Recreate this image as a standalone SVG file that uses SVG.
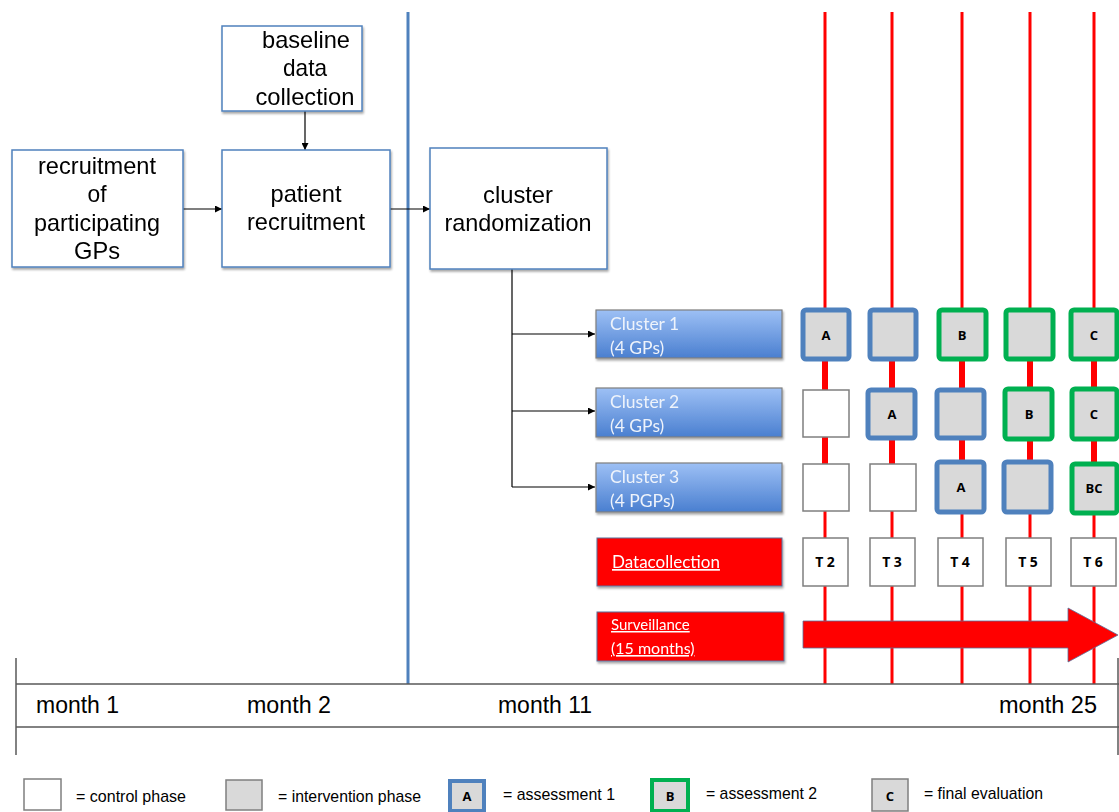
<svg xmlns="http://www.w3.org/2000/svg" width="1119" height="812" viewBox="0 0 1119 812">
<defs>
<marker id="ah" viewBox="0 0 10 10" refX="10" refY="5" markerWidth="7" markerHeight="7" markerUnits="userSpaceOnUse" orient="auto"><path d="M0,0 L10,5 L0,10 z" fill="#000"/></marker>
<linearGradient id="cg" x1="0" y1="0" x2="0" y2="1"><stop offset="0" stop-color="#9DC0F5"/><stop offset="1" stop-color="#4A7FD0"/></linearGradient>
<filter id="sh" x="-10%" y="-10%" width="130%" height="140%"><feDropShadow dx="1" dy="2" stdDeviation="1.2" flood-color="#000" flood-opacity="0.35"/></filter>
</defs>
<style>
.box{fill:#fff;stroke:#4F81BD;stroke-width:1.5}
.bt{font-family:"Liberation Sans",Arial,sans-serif;font-size:24px;fill:#000;text-anchor:middle}
.conn{stroke:#000;stroke-width:1.2;fill:none}
.cl{fill:url(#cg);stroke:#7F7F7F;stroke-width:1.2}
.ct{font-family:Lato,"Open Sans",sans-serif;font-size:17.5px;fill:#EEF3FB}
.red{fill:#FF0000;stroke:#5A6E9A;stroke-width:1}
.rt{font-family:Lato,"Open Sans",sans-serif;fill:#fff}
.rl{stroke:#FF0000;stroke-width:3}
.rk{stroke:#FF0000;stroke-width:6}
.wb{fill:#fff;stroke:#7F7F7F;stroke-width:1.5}
.gb{fill:#D9D9D9;stroke:#4F81BD;stroke-width:5}
.ggb{fill:#D9D9D9;stroke:#00B050;stroke-width:5}
.pb{fill:#D9D9D9;stroke:#7F7F7F;stroke-width:1.5}
.lt{font-family:"Open Sans","Liberation Sans",sans-serif;font-size:13px;font-weight:bold;fill:#000;text-anchor:middle}
.tt{font-family:"Open Sans","Liberation Sans",sans-serif;font-size:14px;font-weight:bold;fill:#000;text-anchor:middle}
.mt{font-family:"Liberation Sans",Arial,sans-serif;font-size:23px;fill:#000}
.lg{font-family:"Liberation Sans",Arial,sans-serif;font-size:17px;fill:#000}
.ax{stroke:#595959;stroke-width:1.5}
</style>
<rect width="1119" height="812" fill="#fff"/>

<g id="timelines">
<line class="rl" x1="825" y1="12" x2="825" y2="684"/>
<line class="rl" x1="892" y1="12" x2="892" y2="684"/>
<line class="rl" x1="962" y1="12" x2="962" y2="684"/>
<line class="rl" x1="1030" y1="12" x2="1030" y2="684"/>
<line class="rl" x1="1094" y1="12" x2="1094" y2="684"/>
<line class="rk" x1="825" y1="360" x2="825" y2="390"/>
<line class="rk" x1="892" y1="360" x2="892" y2="390"/>
<line class="rk" x1="962" y1="360" x2="962" y2="390"/>
<line class="rk" x1="1030" y1="360" x2="1030" y2="390"/>
<line class="rk" x1="1094" y1="360" x2="1094" y2="390"/>
<line class="rk" x1="825" y1="437" x2="825" y2="464"/>
<line class="rk" x1="892" y1="437" x2="892" y2="464"/>
<line class="rk" x1="962" y1="437" x2="962" y2="464"/>
<line class="rk" x1="1030" y1="437" x2="1030" y2="464"/>
<line class="rk" x1="1094" y1="437" x2="1094" y2="464"/>
</g>

<line x1="408" y1="12" x2="408" y2="684" stroke="#4F81BD" stroke-width="3"/>

<g id="connectors">
<line class="conn" x1="305" y1="111" x2="305" y2="150" marker-end="url(#ah)"/>
<line class="conn" x1="183" y1="209" x2="222" y2="209" marker-end="url(#ah)"/>
<line class="conn" x1="390" y1="209" x2="430" y2="209" marker-end="url(#ah)"/>
<polyline class="conn" points="512,269 512,487"/>
<line class="conn" x1="512" y1="334" x2="595" y2="334" marker-end="url(#ah)"/>
<line class="conn" x1="512" y1="411" x2="595" y2="411" marker-end="url(#ah)"/>
<line class="conn" x1="512" y1="487" x2="595" y2="487" marker-end="url(#ah)"/>
</g>

<g id="baseline" filter="url(#sh)"><rect class="box" x="222" y="26" width="140" height="85"/>
<text class="bt" x="306" y="48" textLength="88" lengthAdjust="spacingAndGlyphs">baseline</text><text class="bt" x="305" y="76" textLength="44" lengthAdjust="spacingAndGlyphs">data</text><text class="bt" x="305" y="105" textLength="99" lengthAdjust="spacingAndGlyphs">collection</text></g>
<g id="recruitGP" filter="url(#sh)"><rect class="box" x="12" y="150" width="171" height="117"/>
<text class="bt" x="97" y="174" textLength="118" lengthAdjust="spacingAndGlyphs">recruitment</text><text class="bt" x="97" y="202" textLength="19" lengthAdjust="spacingAndGlyphs">of</text><text class="bt" x="97" y="231" textLength="126" lengthAdjust="spacingAndGlyphs">participating</text><text class="bt" x="97" y="259" textLength="46" lengthAdjust="spacingAndGlyphs">GPs</text></g>
<g id="patient" filter="url(#sh)"><rect class="box" x="222" y="150" width="168" height="117"/>
<text class="bt" x="306" y="202" textLength="71" lengthAdjust="spacingAndGlyphs">patient</text><text class="bt" x="306" y="230" textLength="118" lengthAdjust="spacingAndGlyphs">recruitment</text></g>
<g id="randomization" filter="url(#sh)"><rect class="box" x="430" y="148" width="177" height="121"/>
<text class="bt" x="518" y="203" textLength="70" lengthAdjust="spacingAndGlyphs">cluster</text><text class="bt" x="518" y="231" textLength="147" lengthAdjust="spacingAndGlyphs">randomization</text></g>

<g id="cluster1" filter="url(#sh)"><rect class="cl" x="596" y="310" width="186" height="48"/>
<text class="ct" x="610" y="330">Cluster 1</text><text class="ct" x="610" y="354">(4 GPs)</text></g>
<g id="cluster2" filter="url(#sh)"><rect class="cl" x="596" y="388" width="186" height="49"/>
<text class="ct" x="610" y="408">Cluster 2</text><text class="ct" x="610" y="432">(4 GPs)</text></g>
<g id="cluster3" filter="url(#sh)"><rect class="cl" x="596" y="463" width="186" height="49"/>
<text class="ct" x="610" y="483">Cluster 3</text><text class="ct" x="610" y="507">(4 PGPs)</text></g>

<g id="datacollection" filter="url(#sh)"><rect class="red" x="597" y="538" width="185" height="48"/>
<text class="rt" x="612" y="568" font-size="17" text-decoration="underline">Datacollection</text></g>
<g id="surveillance" filter="url(#sh)"><rect class="red" x="597" y="612" width="187" height="49"/>
<text class="rt" x="611" y="630" font-size="15" text-decoration="underline">Surveillance</text>
<text class="rt" x="611" y="654" font-size="16" text-decoration="underline">(15 months)</text></g>
<g id="survArrow"><path d="M803,621 L1068,621 L1068,608 L1118,635 L1068,662 L1068,648 L803,648 z" fill="#FF0000" stroke="#5A6E9A" stroke-width="0.8"/></g>

<g id="r1c1"><rect class="gb" x="803" y="310" width="46" height="49" rx="3"/><text class="lt" x="826" y="340">A</text></g>
<g id="r1c2"><rect class="gb" x="870" y="310" width="46" height="49" rx="3"/></g>
<g id="r1c3"><rect class="ggb" x="939" y="310" width="47" height="49" rx="3"/><text class="lt" x="962" y="340">B</text></g>
<g id="r1c4"><rect class="ggb" x="1006" y="310" width="47" height="49" rx="3"/></g>
<g id="r1c5"><rect class="ggb" x="1071" y="310" width="46" height="49" rx="3"/><text class="lt" x="1094" y="340">C</text></g>
<g id="r2c1"><rect class="wb" x="803" y="390" width="46" height="47"/></g>
<g id="r2c2"><rect class="gb" x="868" y="390" width="47" height="48" rx="3"/><text class="lt" x="892" y="419">A</text></g>
<g id="r2c3"><rect class="gb" x="937" y="390" width="47" height="48" rx="3"/></g>
<g id="r2c4"><rect class="ggb" x="1005" y="389" width="47" height="50" rx="3"/><text class="lt" x="1029" y="419">B</text></g>
<g id="r2c5"><rect class="ggb" x="1072" y="389" width="45" height="50" rx="3"/><text class="lt" x="1094" y="419">C</text></g>
<g id="r3c1"><rect class="wb" x="803" y="464" width="46" height="47"/></g>
<g id="r3c2"><rect class="wb" x="870" y="464" width="46" height="47"/></g>
<g id="r3c3"><rect class="gb" x="937" y="462" width="47" height="50" rx="3"/><text class="lt" x="961" y="492">A</text></g>
<g id="r3c4"><rect class="gb" x="1004" y="462" width="47" height="50" rx="3"/></g>
<g id="r3c5"><rect class="ggb" x="1072" y="464" width="45" height="49" rx="3"/><text class="lt" x="1094" y="493">BC</text></g>

<g id="T2"><rect class="wb" x="803" y="538" width="45" height="48"/><text class="tt" x="825" y="567">T 2</text></g>
<g id="T3"><rect class="wb" x="870" y="538" width="45" height="48"/><text class="tt" x="892" y="567">T 3</text></g>
<g id="T4"><rect class="wb" x="938" y="538" width="45" height="48"/><text class="tt" x="960" y="567">T 4</text></g>
<g id="T5"><rect class="wb" x="1006" y="538" width="45" height="48"/><text class="tt" x="1028" y="567">T 5</text></g>
<g id="T6"><rect class="wb" x="1071" y="538" width="45" height="48"/><text class="tt" x="1093" y="567">T 6</text></g>

<g id="axis">
<line class="ax" x1="16" y1="684" x2="1119" y2="684"/>
<line class="ax" x1="16" y1="727" x2="1119" y2="727"/>
<line class="ax" x1="16" y1="658" x2="16" y2="755"/>
<line class="ax" x1="1118" y1="658" x2="1118" y2="755"/>
<text class="mt" x="36" y="713" textLength="83" lengthAdjust="spacingAndGlyphs">month 1</text>
<text class="mt" x="247" y="713" textLength="84" lengthAdjust="spacingAndGlyphs">month 2</text>
<text class="mt" x="498" y="713" textLength="94" lengthAdjust="spacingAndGlyphs">month 11</text>
<text class="mt" x="999" y="713" textLength="98" lengthAdjust="spacingAndGlyphs">month 25</text>
</g>

<g id="legend">
<rect class="wb" x="24" y="779" width="37" height="31"/>
<text class="lg" x="76" y="802" textLength="110" lengthAdjust="spacingAndGlyphs">= control phase</text>
<rect class="pb" x="226" y="780" width="36" height="30"/>
<text class="lg" x="278" y="802" textLength="143" lengthAdjust="spacingAndGlyphs">= intervention phase</text>
<rect x="450" y="781" width="34" height="30" fill="#D9D9D9" stroke="#4F81BD" stroke-width="4"/>
<text class="lt" x="467" y="801">A</text>
<text class="lg" x="503" y="800" textLength="112" lengthAdjust="spacingAndGlyphs">= assessment 1</text>
<rect x="652" y="780" width="36" height="31" fill="#D9D9D9" stroke="#00B050" stroke-width="4"/>
<text class="lt" x="670" y="801">B</text>
<text class="lg" x="706" y="799" textLength="111" lengthAdjust="spacingAndGlyphs">= assessment 2</text>
<rect class="pb" x="872" y="779" width="36" height="32"/>
<text class="lt" x="890" y="801">C</text>
<text class="lg" x="924" y="799" textLength="119" lengthAdjust="spacingAndGlyphs">= final evaluation</text>
</g>
</svg>
